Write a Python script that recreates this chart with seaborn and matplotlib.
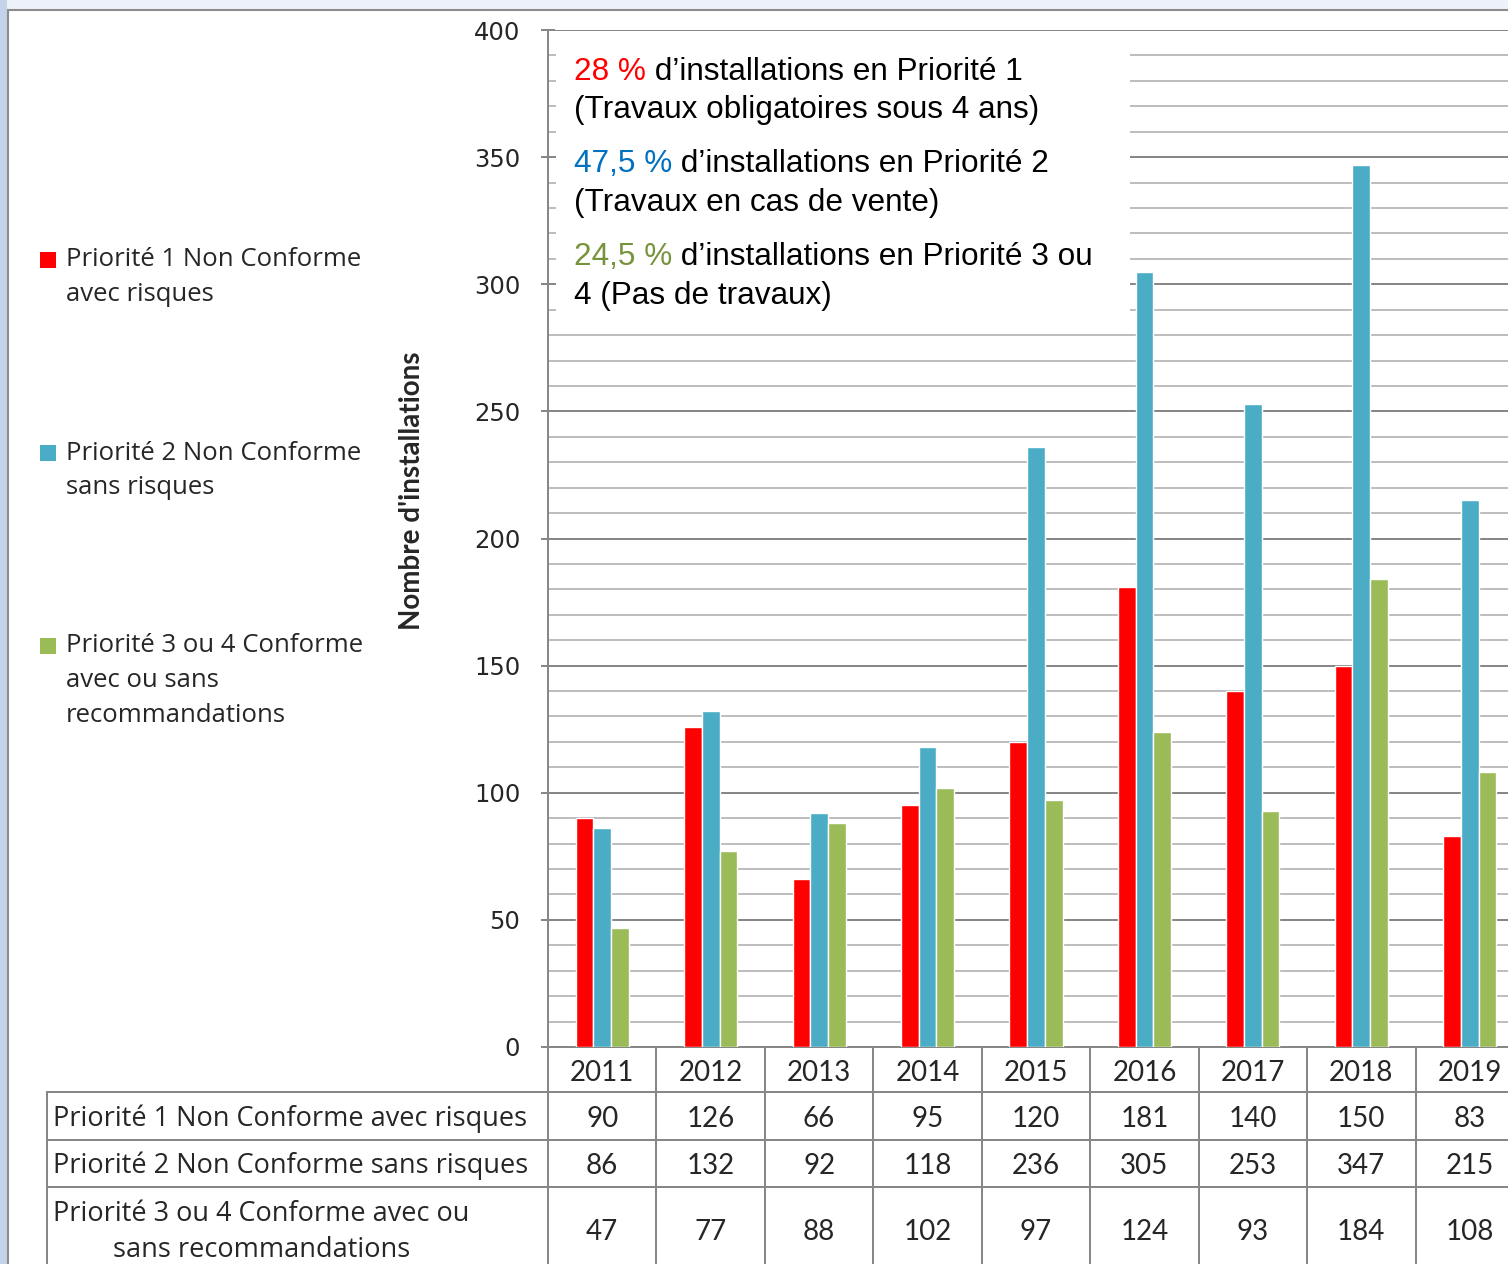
import numpy as np
import pandas as pd
import matplotlib
matplotlib.use('Agg')
import matplotlib.pyplot as plt
import matplotlib.transforms as mtransforms
from matplotlib.patches import Rectangle
from matplotlib.lines import Line2D
from matplotlib.ticker import MultipleLocator
import seaborn as sns

# données
annees = ['2011', '2012', '2013', '2014', '2015', '2016', '2017', '2018', '2019']
priorite1 = [90, 126, 66, 95, 120, 181, 140, 150, 83]
priorite2 = [86, 132, 92, 118, 236, 305, 253, 347, 215]
priorite3 = [47, 77, 88, 102, 97, 124, 93, 184, 108]
series = ['Priorité 1 Non Conforme avec risques',
          'Priorité 2 Non Conforme sans risques',
          'Priorité 3 ou 4 Conforme avec ou sans recommandations']
lignes_tableau = ['Priorité 1 Non Conforme avec risques',
                  'Priorité 2 Non Conforme sans risques',
                  'Priorité 3 ou 4 Conforme avec ou\nsans recommandations']
lignes_legende = [['Priorité 1 Non Conforme', 'avec risques'],
                  ['Priorité 2 Non Conforme', 'sans risques'],
                  ['Priorité 3 ou 4 Conforme', 'avec ou sans', 'recommandations']]
couleurs = ['#FF0000', '#4BACC6', '#9BBB59']
# encadré : (partie colorée, couleur, suite en noir)
encadre = [('28 %', '#FF0000', ' d’installations en Priorité 1'),
           ('', 'black', '(Travaux obligatoires sous 4 ans)'),
           ('47,5 %', '#0070C0', ' d’installations en Priorité 2'),
           ('', 'black', '(Travaux en cas de vente)'),
           ('24,5 %', '#77933C', ' d’installations en Priorité 3 ou'),
           ('', 'black', '4 (Pas de travaux)')]

df = pd.DataFrame({
    'Année': annees * 3,
    'Catégorie': np.repeat(series, len(annees)),
    'Nombre': priorite1 + priorite2 + priorite3,
})

W, H = 1508, 1264
GRIS = '#878787'
GRIS_CLAIR = '#BEBEBE'
POLICE = 'Lato'
POLICE_TXT = 'Open Sans'
POLICE_ENC = 'Liberation Sans'


def fx(px):
    return px / W


def fy(py):
    return 1 - py / H


sns.set_style('white')
fig = plt.figure(figsize=(W / 100, H / 100), dpi=100, facecolor='#EDF2F9')
fig.patches.append(Rectangle((0, 0), fx(7), 1, transform=fig.transFigure,
                             facecolor='#C3D4EA', edgecolor='none', zorder=-2))
fig.patches.append(Rectangle((fx(8), -0.1), 1.2, fy(10) + 0.1, transform=fig.transFigure,
                             facecolor='white', edgecolor='#8C8C8C', lw=1.5, zorder=-1))

ax = fig.add_axes([fx(548), fy(1047), (1524 - 548) / W, (1047 - 30) / H])
ax.set_facecolor('none')
sns.barplot(data=df, x='Année', y='Nombre', hue='Catégorie', palette=couleurs,
            width=0.49, saturation=1, legend=False, ax=ax, zorder=3)
ax.set_xlim(-0.5, len(annees) - 0.5)
ax.set_ylim(0, 400)
ax.set_xlabel('')
ax.set_ylabel('')

ax.yaxis.set_major_locator(MultipleLocator(50))
ax.yaxis.set_minor_locator(MultipleLocator(10))
ax.grid(which='minor', axis='y', color=GRIS_CLAIR, lw=1.44)
ax.grid(which='major', axis='y', color=GRIS, lw=1.44)
ax.grid(axis='x', visible=False)
ax.set_axisbelow(True)
ax.tick_params(axis='y', which='major', direction='inout', length=10, width=1.44,
               color=GRIS, labelsize=17.5, pad=15, left=True)
ax.tick_params(axis='y', which='minor', direction='in', length=4.5, width=1.44,
               color=GRIS_CLAIR, left=True)
for lab in ax.get_yticklabels():
    lab.set_family('DejaVu Sans')
ax.set_xticks(range(len(annees)), labels=annees)
ax.tick_params(axis='x', length=0, pad=18.5, labelsize=20)
for lab in ax.get_xticklabels():
    lab.set_verticalalignment('center')
    lab.set_family(POLICE)
for s in ['top', 'right']:
    ax.spines[s].set_visible(False)
for s in ['left', 'bottom']:
    ax.spines[s].set_color(GRIS)
    ax.spines[s].set_linewidth(1.44)

fig.text(fx(412), fy(491), "Nombre d'installations", rotation=90, ha='center', va='center',
         fontsize=20, fontweight='bold', family=POLICE)

# encadré blanc avec les pourcentages
ax.add_patch(Rectangle(((556 - 548) / 976, (1047 - 322) / 1017), (1130 - 556) / 976,
                       (322 - 40) / 1017, transform=ax.transAxes, facecolor='white',
                       edgecolor='none', zorder=1))
bases = [80, 118, 172, 211, 265, 304]
for (debut, coul, suite), yb in zip(encadre, bases):
    if debut:
        t = fig.text(fx(574), fy(yb), debut, color=coul, fontsize=22.7, family=POLICE_ENC,
                     va='baseline', ha='left')
        ax.annotate(suite, xy=(1, 0), xycoords=t, va='bottom', ha='left', fontsize=22.7,
                    family=POLICE_ENC, color='black', annotation_clip=False)
    else:
        fig.text(fx(574), fy(yb), suite, color='black', fontsize=22.7, family=POLICE_ENC,
                 va='baseline', ha='left')

# légende à gauche
for i, (lignes, coul) in enumerate(zip(lignes_legende, couleurs)):
    y0 = 260 + 193 * i
    fig.patches.append(Rectangle((fx(40), fy(y0 + 8)), fx(16), 16 / H, transform=fig.transFigure,
                                 facecolor=coul, edgecolor='none'))
    for k, txt in enumerate(lignes):
        fig.text(fx(66), fy(y0 + 34.5 * k), txt, ha='left', va='center', fontsize=18.5,
                 family=POLICE_TXT)

# tableau de données
trans = mtransforms.blended_transform_factory(ax.transData, fig.transFigure)
bords = np.arange(len(annees) + 1) - 0.5
for b in bords:
    ax.plot([b, b], [fy(1047), fy(1270)], transform=trans, color=GRIS, lw=1.44, clip_on=False)
for yl in [1092, 1140, 1187]:
    fig.add_artist(Line2D([fx(47), 1], [fy(yl)] * 2, transform=fig.transFigure, color=GRIS, lw=1.44))
fig.add_artist(Line2D([fx(47)] * 2, [fy(1092), fy(1270)], transform=fig.transFigure, color=GRIS, lw=1.44))

y_lignes = [1119, 1166, 1232]
for serie, yl in zip([priorite1, priorite2, priorite3], y_lignes):
    for j, v in enumerate(serie):
        ax.text(j, fy(yl), str(v), transform=trans, ha='center', va='center',
                fontsize=20, family=POLICE, clip_on=False)
for txt, yl in zip(lignes_tableau, y_lignes):
    fig.text(fx(53), fy(yl), txt, ha='left', va='center', fontsize=19.5, family=POLICE_TXT,
             multialignment='center', linespacing=1.38)

fig.savefig('out.png', dpi=100, facecolor=fig.get_facecolor())
